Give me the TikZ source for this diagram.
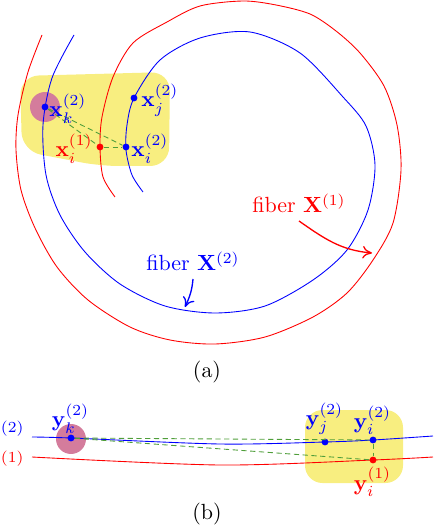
\documentclass[tikz,border=0pt]{standalone}
\usepackage{tikz}
\usepackage{xcolor}
\usepackage{amssymb}
\usetikzlibrary{positioning, arrows.meta, calc}
\definecolor{hilite}{HTML}{F8EE80}
\definecolor{nbhdpink}{HTML}{D47C9C}
\definecolor{linkgreen}{HTML}{4F9E3A}

\begin{document}
\begin{tikzpicture}[x=0.016cm, y=-0.016cm,
  bpt/.style={circle, fill=blue, inner sep=0pt, minimum size=0.11cm},
  rpt/.style={circle, fill=red, inner sep=0pt, minimum size=0.11cm},
  nbhd/.style={circle, fill=nbhdpink, inner sep=0pt, minimum size=0.48cm},
  link/.style={linkgreen, thin, dash pattern=on 2.4pt off 1.6pt},
  bfib/.style={blue, thin},
  rfib/.style={red, thin},
  blab/.style={blue, inner sep=0pt},
  rlab/.style={red, inner sep=0pt},
  pointer/.style={semithick, -{To[length=1.5mm, width=2mm]}}]
  \useasboundingbox (0,0) rectangle (437,529);

  % (a)
  \fill[hilite, rounded corners=0.3cm] (20,76) -- (170,72) -- (169,166) -- (100,166) -- (22,151) -- cycle;
  \node[nbhd] (ux) at (45,107) {};

  \draw[bfib] plot[smooth] coordinates {(74,35) (52,78) (43,125) (46,175) (60,215) (85,252)
    (120,284) (165,306) (215,313) (265,306) (313,280) (347,250) (368,210) (375,165) (366,126)
    (343,97) (300,53) (250,32) (200,38) (160,60) (134,98) (127,125) (126,150) (132,175) (143,192)};
  \draw[rfib] plot[smooth] coordinates {(42,35) (28,72) (18,115) (16,150) (21,190) (35,228)
    (57,267) (88,300) (130,327) (170,340) (215,344) (265,337) (313,317) (347,293) (373,260)
    (393,223) (401,170) (397,125) (384,86) (360,53) (336,31) (310,14) (276,5) (243,1) (200,6)
    (167,22) (133,43) (113,77) (102,117) (100,147) (103,177) (115,197)};

  \node[bpt] (xk) at (45,107) {};
  \node[bpt] (xj) at (134,98) {};
  \node[bpt] (xi2) at (126,147) {};
  \node[rpt] (xi1) at (100,147) {};

  \draw[link] (xk) -- (xi2);
  \draw[link] (xk) -- (xi1);
  \draw[link] (xi1) -- (xi2);

  \node[blab, anchor=base west] (lxk) at (49,117) {$\mathbf{x}_k^{(2)}$};
  \node[blab, anchor=base west] (lxj) at (141,107) {$\mathbf{x}_j^{(2)}$};
  \node[blab, anchor=base west] (lxi2) at (131,157) {$\mathbf{x}_i^{(2)}$};
  \node[rlab, anchor=base east] (lxi1) at (93,157) {$\mathbf{x}_i^{(1)}$};

  \node[red, anchor=base] (fib1) at (299,213) {fiber $\mathbf{X}^{(1)}$};
  \coordinate (tip1) at (372,253);
  \draw[pointer, red] (fib1.south) to[out=-35, in=175] (tip1);

  \node[blue, anchor=base] (fib2) at (193,271) {fiber $\mathbf{X}^{(2)}$};
  \coordinate (tip2) at (185,307);
  \draw[pointer, blue] (fib2.south) to[out=-95, in=65] (tip2);

  \node (capa) at (207,372) {(a)};

  % (b)
  \fill[hilite, rounded corners=0.28cm] (305,410) rectangle (403,483);
  \node[nbhd] (uy) at (71,439) {};

  \draw[bfib] plot[smooth] coordinates {(32,437) (71,438) (220,444) (325,442) (373,440) (433,436)};
  \draw[rfib] plot[smooth] coordinates {(32,457) (220,465) (373,460) (433,457)};

  \node[bpt] (yk) at (71,438) {};
  \node[bpt] (yj) at (325,442) {};
  \node[bpt] (yi2) at (373,440) {};
  \node[rpt] (yi1) at (373,460) {};

  \draw[link] (yk) -- (yi2);
  \draw[link] (yk) -- (yi1);
  \draw[link] (yi2) -- (yi1);

  \node[blab, anchor=south] (lyk) at (70.5,434) {$\mathbf{y}_k^{(2)}$};
  \node[blab, anchor=south] (lyj) at (324.5,435) {$\mathbf{y}_j^{(2)}$};
  \node[blab, anchor=south] (lyi2) at (372.5,435) {$\mathbf{y}_i^{(2)}$};
  \node[rlab, anchor=north] (lyi1) at (372.5,467) {$\mathbf{y}_i^{(1)}$};

  \node[blab, anchor=base east] (fy2) at (25,440) {$\mathbf{Y}^{(2)}$};
  \node[rlab, anchor=base east] (fy1) at (25,470) {$\mathbf{Y}^{(1)}$};

  \node (capb) at (207,514) {(b)};
\end{tikzpicture}
\end{document}
